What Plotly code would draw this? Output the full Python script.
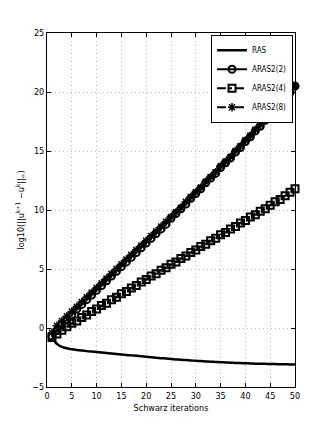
import plotly.graph_objects as go

iterations = list(range(1, 51))

ras = [-0.8, -1.35, -1.6, -1.72, -1.8, -1.86, -1.91, -1.96, -2.0, -2.04,
       -2.08, -2.12, -2.16, -2.2, -2.24, -2.28, -2.32, -2.36, -2.4, -2.44,
       -2.48, -2.52, -2.555, -2.59, -2.625, -2.66, -2.69, -2.72, -2.75, -2.78,
       -2.805, -2.83, -2.855, -2.88, -2.9, -2.92, -2.94, -2.96, -2.975, -2.99,
       -3.005, -3.02, -3.03, -3.04, -3.05, -3.06, -3.07, -3.08, -3.085, -3.09]

aras2_2 = [-0.7, -0.2, 0.3, 0.7, 1.1, 1.6, 2.0, 2.4, 2.8, 3.2,
           3.6, 4.0, 4.4, 4.8, 5.2, 5.6, 6.0, 6.4, 6.8, 7.2,
           7.6, 8.0, 8.4, 8.8, 9.3, 9.7, 10.1, 10.5, 11.0, 11.4,
           11.8, 12.3, 12.7, 13.1, 13.6, 14.0, 14.4, 14.9, 15.3, 15.8,
           16.2, 16.7, 17.1, 17.6, 18.0, 18.5, 18.9, 19.4, 19.95, 20.5]

aras2_4 = [-0.8, -0.5, -0.2, 0.1, 0.4, 0.6, 0.9, 1.1, 1.4, 1.6,
           1.9, 2.1, 2.4, 2.6, 2.9, 3.1, 3.4, 3.6, 3.9, 4.1,
           4.4, 4.6, 4.9, 5.1, 5.4, 5.6, 5.9, 6.1, 6.4, 6.6,
           6.9, 7.1, 7.4, 7.6, 7.9, 8.1, 8.4, 8.6, 8.9, 9.1,
           9.4, 9.6, 9.9, 10.1, 10.4, 10.7, 10.9, 11.2, 11.5, 11.8]

aras2_8 = [-0.4, 0.2, 0.6, 1.0, 1.4, 1.8, 2.2, 2.6, 3.0, 3.4,
           3.8, 4.2, 4.6, 5.0, 5.4, 5.8, 6.2, 6.6, 7.0, 7.4,
           7.8, 8.2, 8.6, 9.0, 9.4, 9.8, 10.2, 10.7, 11.1, 11.5,
           11.9, 12.4, 12.8, 13.2, 13.7, 14.1, 14.5, 15.0, 15.4, 15.9,
           16.3, 16.8, 17.2, 17.7, 18.1, 18.6, 19.0, 19.5, 20.0, 20.5]

font_family = "DejaVu Sans Condensed, Liberation Sans Narrow, Arial"

fig = go.Figure()
fig.add_trace(go.Scatter(
    x=iterations, y=ras, name="RAS", mode="lines",
    line=dict(color="black", width=2.5, shape="spline", smoothing=0.6),
    cliponaxis=False,
))
fig.add_trace(go.Scatter(
    x=iterations, y=aras2_2, name="ARAS2(2)", mode="lines+markers",
    line=dict(color="black", width=2),
    marker=dict(symbol="circle-open", size=7, color="black", line=dict(width=2)),
    cliponaxis=False,
))
fig.add_trace(go.Scatter(
    x=iterations, y=aras2_4, name="ARAS2(4)", mode="lines+markers",
    line=dict(color="black", width=2, dash="dashdot"),
    marker=dict(symbol="square-open", size=7, color="black", line=dict(width=2)),
    cliponaxis=False,
))
fig.add_trace(go.Scatter(
    x=iterations, y=aras2_8, name="ARAS2(8)", mode="lines+markers",
    line=dict(color="black", width=2, dash="dash"),
    marker=dict(symbol="asterisk-open", size=7, color="black", line=dict(width=1.5)),
    cliponaxis=False,
))

axis_style = dict(
    showline=True, linecolor="black", linewidth=1, mirror="ticks",
    ticks="inside", ticklen=4, tickcolor="black",
    showgrid=True, gridcolor="#b8b8b8", griddash="1px,3px", gridwidth=1,
    zeroline=False,
    tickfont=dict(family=font_family, size=9, color="black"),
)

fig.update_xaxes(
    range=[0, 50], tickvals=[0, 5, 10, 15, 20, 25, 30, 35, 40, 45, 50],
    title=dict(text="Schwarz iterations", standoff=4,
               font=dict(family=font_family, size=9, color="black")),
    **axis_style,
)
fig.update_yaxes(
    range=[-5, 25], tickvals=[-5, 0, 5, 10, 15, 20, 25],
    title=dict(text="log10(||u<sup>k+1</sup> \u2212u<sup>k</sup>||<sub>\u221e</sub>)",
               standoff=6,
               font=dict(family=font_family, size=9, color="black")),
    **axis_style,
)

# the page body has an 8px margin, so the plot area is shifted by that amount
fig.update_layout(
    width=327, height=436,
    margin=dict(l=34, r=40, t=25, b=57),
    paper_bgcolor="white", plot_bgcolor="white",
    font=dict(family=font_family, size=9, color="black"),
    legend=dict(
        x=0.992, y=0.995, xanchor="right", yanchor="top",
        bgcolor="white", bordercolor="black", borderwidth=1,
        font=dict(family=font_family, size=8, color="black"),
        itemwidth=30, tracegroupgap=0,
    ),
)

fig.write_html("out.html")
